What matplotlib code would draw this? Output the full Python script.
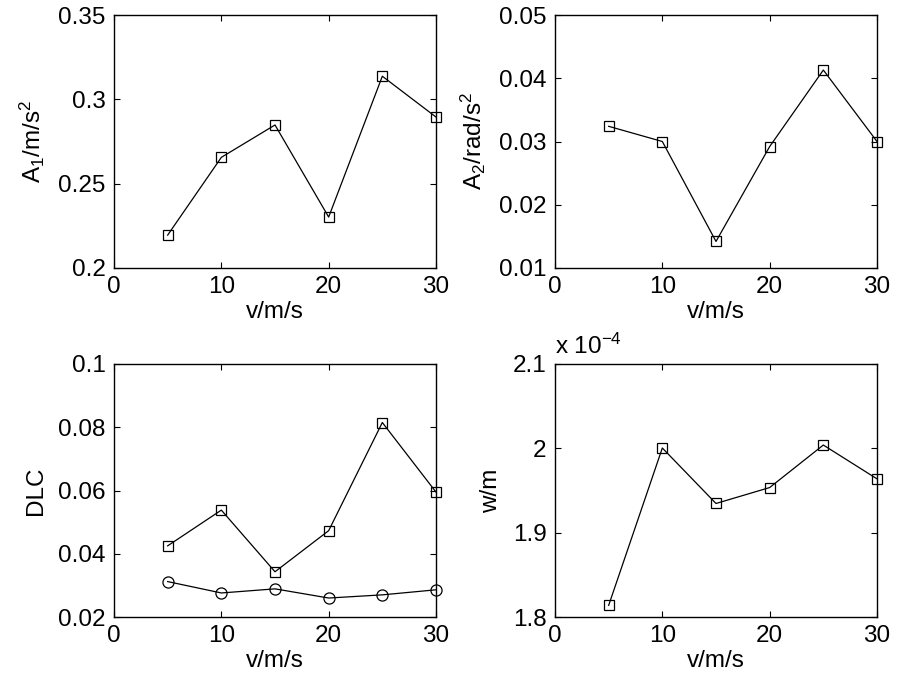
import matplotlib

matplotlib.use("Agg")
import matplotlib.pyplot as plt
from matplotlib.ticker import FuncFormatter

plt.rcParams["font.family"] = ["Liberation Sans", "DejaVu Sans"]
plt.rcParams["mathtext.fontset"] = "custom"
plt.rcParams["mathtext.rm"] = "Liberation Sans"
plt.rcParams["mathtext.it"] = "Liberation Sans"

# data
speed = [5, 10, 15, 20, 25, 30]
a1 = [0.2195, 0.2656, 0.2848, 0.2302, 0.3137, 0.2895]
a2 = [0.0324, 0.0300, 0.0142, 0.0292, 0.0413, 0.0300]
dlc_square = [0.0425, 0.0538, 0.0343, 0.0473, 0.0815, 0.0595]
dlc_circle = [0.0312, 0.0276, 0.0289, 0.0260, 0.0270, 0.0286]
w = [1.8138e-4, 2.0004e-4, 1.9346e-4, 1.9535e-4, 2.0039e-4, 1.9638e-4]

xticks = [0, 10, 20, 30]
FS = 17.5

fig = plt.figure(figsize=(8.98, 6.82), dpi=100)


def make_axes(rect, yticks, ylabel, fmt=None):
    ax = fig.add_axes(rect)
    ax.set_xlim(0, 30)
    ax.set_ylim(yticks[0], yticks[-1])
    ax.set_xticks(xticks)
    ax.set_yticks(yticks)
    if fmt is not None:
        ax.yaxis.set_major_formatter(FuncFormatter(fmt))
    else:
        ax.set_yticklabels([f"{t:g}" for t in yticks])
    ax.tick_params(direction="in", length=4, width=0.8, top=True, right=True,
                   labelsize=FS, pad=6)
    for s in ax.spines.values():
        s.set_linewidth(1.0)
    ax.set_xlabel("v/m/s", fontsize=FS, labelpad=2)
    ax.set_ylabel(ylabel, fontsize=FS, labelpad=8)
    return ax


W = 322 / 898
H = 253 / 682
left1 = 114 / 898
left2 = 555 / 898
bot_top = 1 - 268 / 682
bot_low = 1 - 617 / 682

mk = dict(color="black", lw=0.9, markerfacecolor="none", markeredgecolor="black",
          markeredgewidth=0.9, clip_on=False, zorder=3)

ax1 = make_axes([left1, bot_top, W, H], [0.2, 0.25, 0.3, 0.35], "A$_1$/m/s$^2$")
ax1.plot(speed, a1, marker="s", markersize=7, **mk)

ax2 = make_axes([left2, bot_top, W, H], [0.01, 0.02, 0.03, 0.04, 0.05], "A$_2$/rad/s$^2$")
ax2.plot(speed, a2, marker="s", markersize=7, **mk)

ax3 = make_axes([left1, bot_low, W, H], [0.02, 0.04, 0.06, 0.08, 0.1], "DLC")
ax3.plot(speed, dlc_square, marker="s", markersize=7, **mk)
ax3.plot(speed, dlc_circle, marker="o", markersize=8, **mk)

ax4 = make_axes([left2, bot_low, W, H], [1.8e-4, 1.9e-4, 2.0e-4, 2.1e-4], "w/m",
                fmt=lambda v, p: f"{v * 1e4:g}")
ax4.plot(speed, w, marker="s", markersize=7, **mk)
ax4.text(0.0, 1.02, "x 10$^{-4}$", transform=ax4.transAxes, fontsize=FS,
         ha="left", va="bottom")

fig.savefig("out.png", dpi=100)
